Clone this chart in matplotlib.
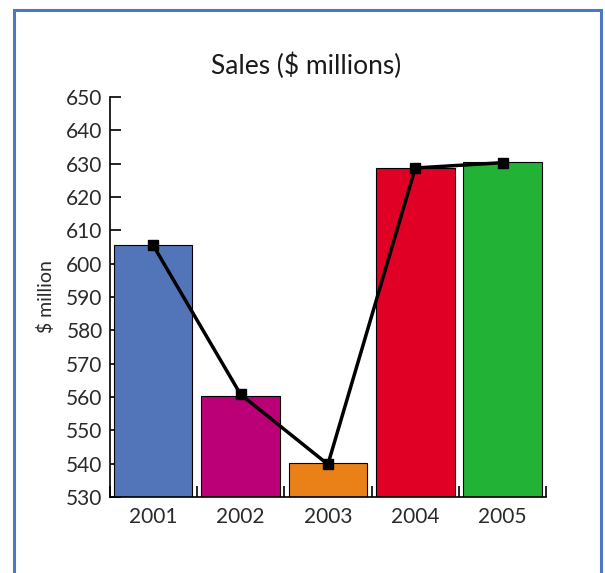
import matplotlib
matplotlib.use("Agg")
import matplotlib.pyplot as plt
from matplotlib.patches import Rectangle

years = ["2001", "2002", "2003", "2004", "2005"]
bar_values = [605.6, 560.4, 540.2, 628.7, 630.4]
line_values = [605.5, 560.8, 539.8, 628.7, 630.3]
bar_colors = ["#5175B8", "#BB0077", "#E98118", "#E00025", "#21B236"]
yticks = list(range(530, 651, 10))

plt.rcParams['font.family'] = ['Lato', 'DejaVu Sans']

fig = plt.figure(figsize=(6.05, 5.73), dpi=100)
ax = fig.add_axes([0.181, 0.1326, 0.722, 0.6981])

x = list(range(len(years)))
ax.bar(x, [v - 530 for v in bar_values], bottom=530, width=0.9,
       color=bar_colors, edgecolor="black", linewidth=0.8, zorder=2)
ax.plot(x, line_values, color="black", linewidth=2.5, marker="s",
        markersize=7.5, zorder=3)

ax.set_xlim(-0.5, len(years) - 0.5)
ax.set_ylim(530, 650)
ax.set_yticks(yticks)
ax.tick_params(axis='y', direction='in', length=8, width=1.2, labelsize=15,
               pad=5, colors="black", labelcolor="#2a2a2a")
ax.set_xticks([i - 0.5 for i in range(len(years) + 1)])
ax.set_xticklabels([])
ax.set_xticks(x, minor=True)
ax.set_xticklabels(years, minor=True)
ax.tick_params(axis='x', which='major', direction='in', length=8, width=1.2)
ax.tick_params(axis='x', which='minor', length=0, labelsize=15, pad=7,
               labelcolor="#2a2a2a")

for s in ["top", "right"]:
    ax.spines[s].set_visible(False)
for s in ["left", "bottom"]:
    ax.spines[s].set_linewidth(1.2)

ax.set_ylabel("$ million", fontsize=14, color="#2a2a2a", labelpad=8)
fig.text(0.506, 0.885, "Sales ($ millions)", ha="center", va="center",
         fontsize=19, color="#1a1a1a")

fig.patches.append(Rectangle((14 / 605, -0.05), (601 - 14) / 605, 1.05 - 10 / 573,
                             transform=fig.transFigure, fill=False,
                             edgecolor="#4F76C4", linewidth=2.2))

fig.savefig("out.png", dpi=100)
